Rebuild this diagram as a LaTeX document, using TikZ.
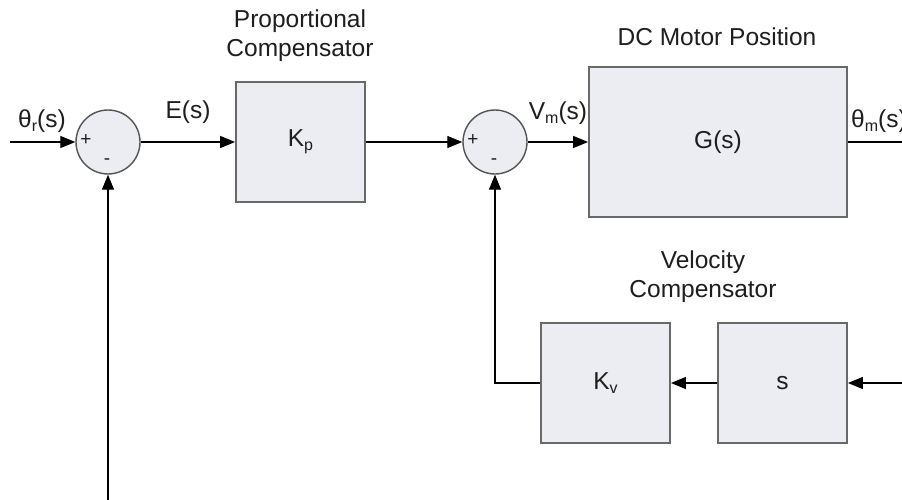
\documentclass[tikz,border=0pt]{standalone}
\usepackage{fontspec}
\setmainfont{Liberation Sans}
\usetikzlibrary{arrows.meta}
\definecolor{boxfill}{RGB}{236,236,243}
\definecolor{boxline}{RGB}{105,105,105}
\definecolor{txtc}{RGB}{30,30,30}
\newcommand\lsub[1]{\raisebox{-0.3ex}{\fontsize{16}{16}\selectfont #1}}
\begin{document}
\begin{tikzpicture}[x=1pt,y=-1pt,
  font=\fontsize{24.5}{29}\selectfont,
  every node/.style={text=txtc},
  blk/.style={draw=boxline, line width=1.8pt, fill=boxfill, inner sep=0pt},
  sumc/.style={circle, draw=boxline!80!black, line width=1.4pt, fill=boxfill, minimum size=64pt, inner sep=0pt},
  arr/.style={line width=1.3pt, -{Triangle[length=15pt,width=12pt]}},
  ln/.style={line width=1.3pt},
  sgn/.style={font=\fontsize{19}{19}\selectfont, inner sep=0pt},
  lbl/.style={inner sep=0pt, align=center}]
\useasboundingbox (0,0) rectangle (902,500);
\fill[white] (0,0) rectangle (902,500);

% blocks
\node[sumc] (s1) at (108,142) {};
\node[blk, minimum width=129pt, minimum height=120pt] (kp) at (300.5,142) {K\lsub{p}};
\node[sumc] (s2) at (495,142) {};
\node[blk, minimum width=258pt, minimum height=150pt] (g) at (718,142) {G(s)};
\node[blk, minimum width=129pt, minimum height=120pt] (kv) at (605.5,383) {K\lsub{v}};
\node[blk, minimum width=129pt, minimum height=120pt] (sb) at (782.5,383) {s};

% signs
\node[sgn] (p1) at (86,140) {+};
\node[sgn] (m1) at (107,162) {-};
\node[sgn] (p2) at (473,140) {+};
\node[sgn] (m2) at (494,162) {-};

% free ends
\coordinate (in) at (10,142);
\coordinate (out) at (902,142);
\coordinate (fin) at (902,383);
\coordinate (bot) at (108,500);

% connectors
\draw[arr] (in) -- (s1.west);
\draw[arr] (s1.east) -- (kp.west);
\draw[arr] (kp.east) -- (s2.west);
\draw[arr] (s2.east) -- (g.west);
\draw[ln] (g.east) -- (out);
\draw[arr] (fin) -- (sb.east);
\draw[arr] (sb.west) -- (kv.east);
\draw[arr] (kv.west) -| (s2.south);
\draw[arr] (bot) -- (s1.south);

% labels
\node[lbl] (lr) at (42,121) {θ\lsub{r}(s)};
\node[lbl] (le) at (188,112) {E(s)};
\node[lbl] (lv) at (558,113) {V\lsub{m}(s)};
\node[lbl, anchor=west] (lm) at (851,121) {θ\lsub{m}(s)};
\node[lbl] (hp) at (300,36) {Proportional\\Compensator};
\node[lbl] (hg) at (717,37) {DC Motor Position};
\node[lbl] (hv) at (703,277) {Velocity\\Compensator};
\end{tikzpicture}
\end{document}
